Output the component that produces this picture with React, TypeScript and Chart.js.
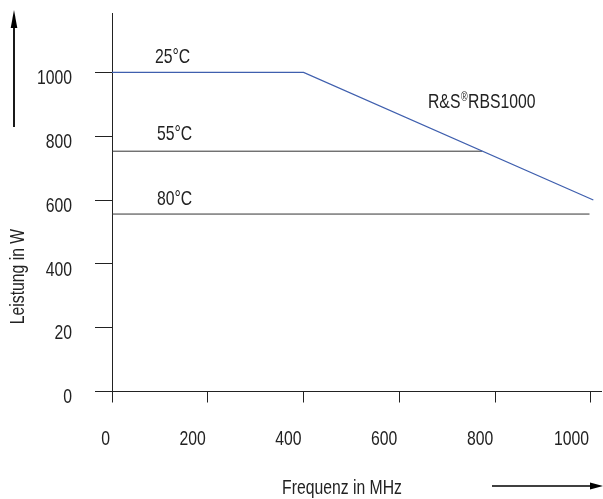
import React, { useEffect, useRef } from 'react';
import { Chart, registerables } from 'chart.js';

Chart.register(...registerables);

const FONT = "'Liberation Sans', Arial, sans-serif";
const FONT_SIZE = 21;
const SQUEEZE = 0.75; // horizontal compression to imitate a condensed face
const TEXT = '#222222';
const BLUE = '#3f5fae';
const GREY = '#333333';

// Axis ticks
const xTickValues = [0, 200, 400, 600, 800, 1000];
const xTickLabels = ['0', '200', '400', '600', '800', '1000'];
const yTickValues = [0, 200, 400, 600, 800, 1000];
const yTickLabels = ['0', '20', '400', '600', '800', '1000'];

// Series (frequency in MHz, power in W)
const freq25 = [0, 400, 1005];
const power25 = [1000, 1000, 600];
const freq55 = [0, 773];
const power55 = [753, 753];
const freq80 = [0, 997];
const power80 = [556, 556];

const seriesLabels = ['25°C', '55°C', '80°C'];
const productLabel = ['R&S', '®', 'RBS1000'];
const xTitle = 'Frequenz in MHz';
const yTitle = 'Leistung in W';

const toPoints = (xs: number[], ys: number[]) => xs.map((x, i) => ({ x, y: ys[i] }));

function squeezedText(
  ctx: CanvasRenderingContext2D,
  text: string,
  x: number,
  y: number,
  align: CanvasTextAlign,
  size = FONT_SIZE,
  rotate = 0,
) {
  ctx.save();
  ctx.translate(x, y);
  if (rotate) ctx.rotate(rotate);
  ctx.scale(SQUEEZE, 1);
  ctx.font = `${size}px ${FONT}`;
  ctx.textAlign = align;
  ctx.textBaseline = 'middle';
  ctx.fillText(text, 0, 0);
  const w = ctx.measureText(text).width * SQUEEZE;
  ctx.restore();
  return w;
}

const decorPlugin = {
  id: 'decor',
  afterDraw(chart: any) {
    const ctx = chart.ctx as CanvasRenderingContext2D;
    const xs = chart.scales.x;
    const ys = chart.scales.y;
    ctx.save();
    ctx.fillStyle = TEXT;

    // tick labels, positioned from the scales
    xs.ticks.forEach((t: any, i: number) => {
      squeezedText(ctx, xTickLabels[i], xs.getPixelForValue(t.value) - 2, 439, 'right');
    });
    ys.ticks.forEach((t: any, i: number) => {
      squeezedText(ctx, yTickLabels[i], 72, ys.getPixelForValue(t.value) + 6, 'right');
    });

    // series labels above their lines
    const x0 = xs.getPixelForValue(0);
    squeezedText(ctx, seriesLabels[0], x0 + 43, ys.getPixelForValue(power25[0]) - 15, 'left');
    squeezedText(ctx, seriesLabels[1], x0 + 45, ys.getPixelForValue(power55[0]) - 16.5, 'left');
    squeezedText(ctx, seriesLabels[2], x0 + 45, ys.getPixelForValue(power80[0]) - 15, 'left');

    // product label with superscript ®
    let px = 428;
    const py = 102;
    px += squeezedText(ctx, productLabel[0], px, py, 'left') + 0.5;
    px += squeezedText(ctx, productLabel[1], px, py - 4, 'left', 12) + 0.5;
    squeezedText(ctx, productLabel[2], px, py, 'left');

    // axis titles
    squeezedText(ctx, xTitle, 342, 488, 'center');
    squeezedText(ctx, yTitle, 18, 276.5, 'center', FONT_SIZE, -Math.PI / 2);

    // arrows
    ctx.strokeStyle = '#000';
    ctx.fillStyle = '#000';
    ctx.lineWidth = 1.8;
    ctx.beginPath();
    ctx.moveTo(14, 127);
    ctx.lineTo(14, 26);
    ctx.stroke();
    ctx.beginPath();
    ctx.moveTo(14, 10);
    ctx.lineTo(17.3, 28);
    ctx.lineTo(10.7, 28);
    ctx.closePath();
    ctx.fill();

    ctx.lineWidth = 1.4;
    ctx.beginPath();
    ctx.moveTo(492, 486);
    ctx.lineTo(592, 486);
    ctx.stroke();
    ctx.beginPath();
    ctx.moveTo(603, 486);
    ctx.lineTo(590, 482.5);
    ctx.lineTo(590, 489.5);
    ctx.closePath();
    ctx.fill();
    ctx.restore();
  },
};

export default function App() {
  const ref = useRef<HTMLCanvasElement | null>(null);

  useEffect(() => {
    document.body.style.margin = '0';
    const canvas = ref.current;
    if (!canvas) return;
    const chart = new Chart(canvas, {
      type: 'line',
      data: {
        datasets: [
          { label: seriesLabels[0], data: toPoints(freq25, power25), borderColor: BLUE, borderWidth: 1.2, pointRadius: 0, fill: false, tension: 0 },
          { label: seriesLabels[1], data: toPoints(freq55, power55), borderColor: GREY, borderWidth: 1, pointRadius: 0, fill: false, tension: 0 },
          { label: seriesLabels[2], data: toPoints(freq80, power80), borderColor: GREY, borderWidth: 1, pointRadius: 0, fill: false, tension: 0 },
        ],
      },
      options: {
        responsive: false,
        animation: false,
        layout: { padding: { top: 13, right: 2, left: 0, bottom: 0 } },
        plugins: { legend: { display: false }, tooltip: { enabled: false } },
        scales: {
          x: {
            type: 'linear',
            min: 0,
            max: 1021,
            afterBuildTicks: (s: any) => { s.ticks = xTickValues.map((v) => ({ value: v })); },
            afterFit: (s: any) => { s.height = 107.5; },
            grid: { drawOnChartArea: false, drawTicks: true, tickLength: 11, tickColor: TEXT, tickWidth: 1 },
            border: { display: true, color: TEXT, width: 1 },
            ticks: { display: false },
          },
          y: {
            type: 'linear',
            min: 0,
            max: 1186,
            afterBuildTicks: (s: any) => { s.ticks = yTickValues.map((v) => ({ value: v })); },
            afterFit: (s: any) => { s.width = 112; },
            grid: { drawOnChartArea: false, drawTicks: true, tickLength: 17, tickColor: TEXT, tickWidth: 1 },
            border: { display: true, color: TEXT, width: 1 },
            ticks: { display: false },
          },
        },
      } as any,
      plugins: [decorPlugin],
    });
    return () => chart.destroy();
  }, []);

  return (
    <div style={{ width: 603, height: 499, background: '#fff' }}>
      <canvas ref={ref} width={603} height={499} style={{ display: 'block', width: 603, height: 499 }} />
    </div>
  );
}
